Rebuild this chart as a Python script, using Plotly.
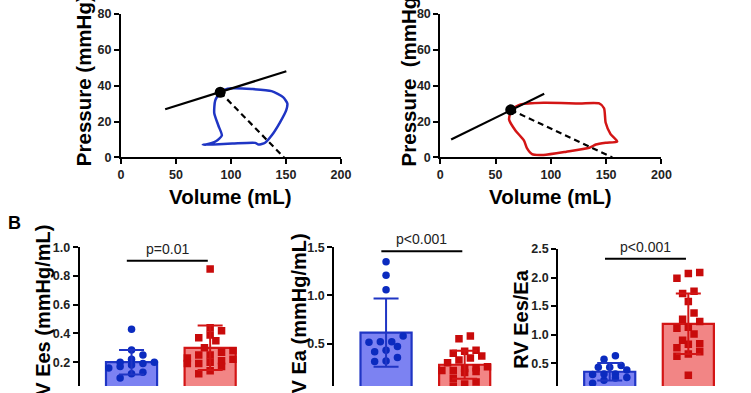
import plotly.graph_objects as go

# ---------------- DATA ----------------
# Panel A: pressure-volume loops
loop_blue_vol = [90.2, 85.7, 84.8, 88.7, 91.7, 86.3, 77.4, 74.4, 101.2, 122, 125, 131, 136.9, 144.3, 150.3, 151.2, 147.3, 136.9, 119, 101, 93.8, 90.2]
loop_blue_prs = [36.3, 31.8, 24.7, 17.5, 12.2, 9.0, 7.2, 7.0, 7.7, 8.1, 7.2, 8.2, 12.2, 19.3, 26.5, 30.0, 33.6, 36.9, 38.1, 38.5, 37.6, 36.3]
espvr_blue_vol = [40.2, 150.3]
espvr_blue_prs = [26.8, 48.0]
ea_blue_vol = [90.2, 148.2]
ea_blue_prs = [36.3, 0.0]

loop_red_vol = [63.7, 72.6, 93.3, 126, 143.7, 148.1, 149.6, 154, 160, 149.6, 140.7, 134.8, 114, 93.3, 83, 78.5, 75.6, 68.1, 62.2, 63.1, 63.7]
loop_red_prs = [26.5, 29.5, 30.4, 30.1, 30.1, 27.4, 19.3, 13.0, 8.9, 8.2, 7.2, 5.4, 3.2, 1.4, 1.8, 5.0, 9.5, 14.9, 21.1, 24.7, 26.5]
espvr_red_vol = [9.8, 94.0]
espvr_red_prs = [10.0, 35.4]
ea_red_vol = [63.7, 155.6]
ea_red_prs = [26.5, 0.0]

x_ticks_A = [0, 50, 100, 150, 200]
y_ticks_A = [0, 20, 40, 60, 80]

# Panel B: bar + scatter
groups = [0, 1]
ees_mean = [0.20, 0.30]
ees_sd = [0.085, 0.155]
ees_blue = [0.43, 0.285, 0.25, 0.22, 0.20, 0.20, 0.19, 0.18, 0.17, 0.16, 0.13, 0.12, 0.09]
ees_red = [0.85, 0.44, 0.42, 0.39, 0.37, 0.35, 0.30, 0.28, 0.27, 0.25, 0.25, 0.23, 0.22, 0.21, 0.20, 0.19, 0.19, 0.17, 0.14, 0.12]

ea_mean = [0.615, 0.28]
ea_sd = [0.355, 0.145]
ea_blue = [1.35, 1.21, 1.06, 0.58, 0.52, 0.52, 0.515, 0.47, 0.43, 0.415, 0.355, 0.32, 0.315]
ea_red = [0.58, 0.55, 0.43, 0.42, 0.40, 0.37, 0.35, 0.33, 0.30, 0.26, 0.25, 0.24, 0.22, 0.22, 0.21, 0.20, 0.14, 0.10, 0.08, 0.06]

ratio_mean = [0.35, 1.19]
ratio_sd = [0.155, 0.53]
ratio_blue = [0.63, 0.57, 0.46, 0.43, 0.43, 0.38, 0.31, 0.31, 0.30, 0.25, 0.24, 0.20, 0.15]
ratio_red = [2.09, 1.99, 2.07, 1.72, 1.76, 1.58, 1.38, 1.23, 1.27, 1.13, 1.11, 1.01, 0.90, 0.83, 0.84, 0.77, 0.70, 0.66, 0.62, 0.29]

p_labels = ["p=0.01", "p<0.001", "p<0.001"]

# ---------------- STYLE ----------------
W, H = 751, 393
BLUE_LINE = "#1f35c4"
BLUE_FILL = "#7c82f2"
BLUE_MK = "#0b2bbf"
RED_LINE = "#d31515"
RED_FILL = "#f28585"
RED_MK = "#c80b0b"
FONT = "Liberation Sans, Arial, sans-serif"
TICKFONT = dict(family=FONT, size=12.5, color="#222", weight="bold")


def px_x(p):
    return p / W


def px_y(p):
    return 1 - p / H


fig = go.Figure()

# ---------- Panel A ----------
A_specs = [
    (1, (120, 344), loop_blue_vol, loop_blue_prs, espvr_blue_vol, espvr_blue_prs, ea_blue_vol, ea_blue_prs, BLUE_LINE),
    (2, (445, 670), loop_red_vol, loop_red_prs, espvr_red_vol, espvr_red_prs, ea_red_vol, ea_red_prs, RED_LINE),
]
for idx, (xl, xr), lv, lp, ev, ep, av, ap, col in A_specs:
    xa = "x" if idx == 1 else f"x{idx}"
    ya = "y" if idx == 1 else f"y{idx}"
    fig.add_trace(go.Scatter(x=lv, y=lp, mode="lines", line=dict(color=col, width=2.5, shape="spline", smoothing=0.6),
                             xaxis=xa, yaxis=ya, showlegend=False, hoverinfo="skip"))
    fig.add_trace(go.Scatter(x=ev, y=ep, mode="lines", line=dict(color="black", width=2.2),
                             xaxis=xa, yaxis=ya, showlegend=False, hoverinfo="skip"))
    fig.add_trace(go.Scatter(x=av, y=ap, mode="lines", line=dict(color="black", width=2.2, dash="6px,4px"),
                             xaxis=xa, yaxis=ya, showlegend=False, hoverinfo="skip"))
    fig.add_trace(go.Scatter(x=[av[0]], y=[ap[0]], mode="markers", marker=dict(color="black", size=11),
                             xaxis=xa, yaxis=ya, showlegend=False, hoverinfo="skip"))
    axkey = "xaxis" if idx == 1 else f"xaxis{idx}"
    aykey = "yaxis" if idx == 1 else f"yaxis{idx}"
    fig.layout[axkey] = dict(domain=[px_x(xl), px_x(xr)], range=[0, 200], anchor=ya,
                             tickvals=x_ticks_A, showline=True, linecolor="black", linewidth=2,
                             ticks="outside", ticklen=5, tickwidth=2, tickcolor="black",
                             showgrid=False, zeroline=False, tickfont=TICKFONT)
    fig.layout[aykey] = dict(domain=[px_y(156), px_y(7)], range=[0, 80], anchor=xa,
                             tickvals=y_ticks_A, showline=True, linecolor="black", linewidth=2,
                             ticks="outside", ticklen=5, tickwidth=2, tickcolor="black",
                             showgrid=False, zeroline=False, tickfont=TICKFONT)

# A titles
for xc, txt in [(82, "Pressure (mmHg)"), (413, "Pressure&nbsp;&nbsp;(mmHg)")]:
    fig.add_annotation(x=px_x(xc), y=px_y(167), xref="paper", yref="paper", text=txt, textangle=-90,
                       showarrow=False, xanchor="center", yanchor="bottom",
                       font=dict(family=FONT, size=20.5, color="black", weight="bold"))
for xc in [232, 557]:
    fig.add_annotation(x=px_x(xc), y=px_y(183), xref="paper", yref="paper", text="Volume (mL)",
                       showarrow=False, xanchor="center", yanchor="top",
                       font=dict(family=FONT, size=20.5, color="black", weight="bold"))


# ---------- Panel B ----------
def swarm(vals, bin_h, spacing, max_row=5):
    """Beeswarm-style horizontal offsets for points sharing a value band."""
    order = sorted(range(len(vals)), key=lambda i: vals[i])
    offs = [0.0] * len(vals)
    rows = []
    for i in order:
        if rows and vals[i] - rows[-1][0] < bin_h and len(rows[-1][1]) < max_row:
            rows[-1][1].append(i)
        else:
            rows.append([vals[i], [i]])
    for _, members in rows:
        n = len(members)
        for k, i in enumerate(members):
            offs[i] = (k - (n - 1) / 2) * spacing
    return offs


B_specs = [
    # idx, axis x px, right px, top px, top value, bottom value, dtick, means, sds, blue, red, title, title x, title top, p-line y, offset
    (3, 78, 250, 249.3, 1.0, 0.034, 0.2, ees_mean, ees_sd, ees_blue, ees_red, "RV Ees (mmHg/mL)", 40, 224, 0.907, 0.66),
    (4, 337, 510, 249.3, 1.5, 0.059, 0.5, ea_mean, ea_sd, ea_blue, ea_red, "RV Ea (mmHg/mL)", 301, 233, 1.46, 0.66),
    (5, 565, 740, 251.0, 2.5, 0.10, 0.5, ratio_mean, ratio_sd, ratio_blue, ratio_red, "RV Ees/Ea", 527, 270, 2.33, 0.655),
]
for n, (idx, xl, xr, ytop, vtop, vbot, dt, means, sds, bvals, rvals, title, tx, tty, ply, off) in enumerate(B_specs):
    xa, ya = f"x{idx}", f"y{idx}"
    unit_px = (H - ytop) / (vtop - vbot)
    bin_h = 7.5 / unit_px
    for g, col_f, col_l, col_m, vals, sym in [(0, BLUE_FILL, BLUE_LINE, BLUE_MK, bvals, "circle"),
                                               (1, RED_FILL, RED_LINE, RED_MK, rvals, "square")]:
        fig.add_trace(go.Bar(x=[groups[g]], y=[means[g]], width=0.65, marker=dict(color=col_f, line=dict(color=col_l, width=2.2)),
                             xaxis=xa, yaxis=ya, showlegend=False, hoverinfo="skip"))
        offs = swarm(vals, bin_h, 0.145)
        fig.add_trace(go.Scatter(x=[groups[g] + o for o in offs], y=vals, mode="markers",
                                 marker=dict(color=col_m, size=7.5, symbol=sym, line=dict(width=0)),
                                 xaxis=xa, yaxis=ya, showlegend=False, hoverinfo="skip"))
        fig.add_trace(go.Scatter(x=[groups[g]], y=[means[g]], mode="markers", marker=dict(size=0.1, color=col_l, opacity=0),
                                 error_y=dict(type="data", array=[sds[g]], color=col_l, thickness=2, width=12.5),
                                 xaxis=xa, yaxis=ya, showlegend=False, hoverinfo="skip"))
    rng_lo = -off
    rng_hi = (xr - xl) / 80.0 - off
    fig.layout[f"xaxis{idx}"] = dict(domain=[px_x(xl), px_x(xr)], range=[rng_lo, rng_hi], anchor=ya,
                                      showline=False, showticklabels=False, ticks="", showgrid=False, zeroline=False)
    fig.layout[f"yaxis{idx}"] = dict(domain=[0, px_y(ytop)], range=[vbot, vtop], anchor=xa, dtick=dt, tick0=0,
                                      showline=True, linecolor="black", linewidth=2,
                                      ticks="outside", ticklen=5, tickwidth=2, tickcolor="black",
                                      tickformat=".1f", showgrid=False, zeroline=False, tickfont=TICKFONT)
    fig.add_shape(type="line", xref=xa, yref=ya, x0=-0.06, x1=0.97, y0=ply, y1=ply,
                  line=dict(color="black", width=2.2))
    fig.add_annotation(x=0.455, y=ply, xref=xa, yref=ya, text=p_labels[n], showarrow=False,
                       yanchor="bottom", yshift=2, font=dict(family=FONT, size=14, color="#222"))
    fig.add_annotation(x=px_x(tx), y=px_y(tty), xref="paper", yref="paper", text=title, textangle=-90,
                       showarrow=False, xanchor="center", yanchor="top",
                       font=dict(family=FONT, size=20, color="black", weight="bold"))

fig.add_annotation(x=px_x(3), y=px_y(212), xref="paper", yref="paper", text="B", showarrow=False,
                   xanchor="left", yanchor="top", font=dict(family=FONT, size=18, color="black", weight="bold"))

fig.update_layout(width=W, height=H, margin=dict(l=0, r=0, t=0, b=0),
                  paper_bgcolor="white", plot_bgcolor="white", barmode="overlay", showlegend=False)

fig.write_html("out.html", config={"displayModeBar": False},
               post_script="document.body.style.margin='0';document.body.style.padding='0';"
                           "document.body.style.overflow='hidden';")
